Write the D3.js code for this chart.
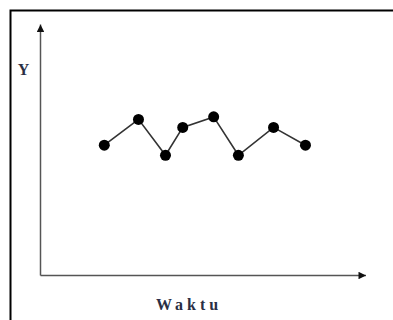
<!DOCTYPE html>
<html>
<head>
<meta charset="utf-8">
<script src="https://cdn.jsdelivr.net/npm/d3@7"></script>
<style>
  html, body { margin: 0; padding: 0; background: #fff; }
  svg { display: block; }
</style>
</head>
<body>
<svg id="chart" width="393" height="320"></svg>
<script>
// Data (time index and Y value)
const times = [19.6, 30.1, 38.4, 43.7, 53.2, 60.8, 71.6, 81.4];
const values = [51.9, 62.2, 47.9, 59.0, 63.2, 47.9, 59.0, 51.9];
const xLabel = "Waktu";
const yLabel = "Y";

const svg = d3.select("#chart");
const W = 393, H = 320;

// frame
svg.append("path")
  .attr("d", `M10.5,${H + 5} L10.5,10.5 L${W + 5},10.5`)
  .attr("fill", "none")
  .attr("stroke", "#000")
  .attr("stroke-width", 2);

const x = d3.scaleLinear().domain([0, 100]).range([40.5, 366]);
const y = d3.scaleLinear().domain([0, 100]).range([275.5, 24.5]);

const defs = svg.append("defs");
defs.append("marker")
  .attr("id", "arrow")
  .attr("viewBox", "0 0 10 10")
  .attr("refX", 10).attr("refY", 5)
  .attr("markerWidth", 9).attr("markerHeight", 7.5)
  .attr("markerUnits", "userSpaceOnUse")
  .attr("orient", "auto")
  .append("path")
  .attr("d", "M0,0 L10,5 L0,10 Z")
  .attr("fill", "#111");

// axes
svg.append("path")
  .attr("d", `M${x(0)},${y(0)} L${x(100)},${y(0)}`)
  .attr("stroke", "#555").attr("stroke-width", 1.5)
  .attr("fill", "none")
  .attr("marker-end", "url(#arrow)");
svg.append("path")
  .attr("d", `M${x(0)},${y(0)} L${x(0)},${y(100)}`)
  .attr("stroke", "#555").attr("stroke-width", 1.5)
  .attr("fill", "none")
  .attr("marker-end", "url(#arrow)");

const data = times.map((t, i) => ({ t, v: values[i] }));

svg.append("path")
  .datum(data)
  .attr("d", d3.line().x(d => x(d.t)).y(d => y(d.v)))
  .attr("fill", "none")
  .attr("stroke", "#333")
  .attr("stroke-width", 1.6);

svg.selectAll("circle.pt")
  .data(data)
  .enter().append("circle")
  .attr("class", "pt")
  .attr("cx", d => x(d.t))
  .attr("cy", d => y(d.v))
  .attr("r", 5.5)
  .attr("fill", "#000");

svg.append("text")
  .attr("x", 23.5).attr("y", 74.5)
  .attr("text-anchor", "middle")
  .attr("font-family", "Liberation Serif, serif")
  .attr("font-weight", "bold")
  .attr("font-size", 16)
  .attr("fill", "#2a2f45")
  .text(yLabel);

svg.append("text")
  .attr("x", 189).attr("y", 310)
  .attr("text-anchor", "middle")
  .attr("font-family", "Liberation Serif, serif")
  .attr("font-weight", "bold")
  .attr("font-size", 16)
  .attr("letter-spacing", "4px")
  .attr("fill", "#2a2f45")
  .text(xLabel);
</script>
</body>
</html>
